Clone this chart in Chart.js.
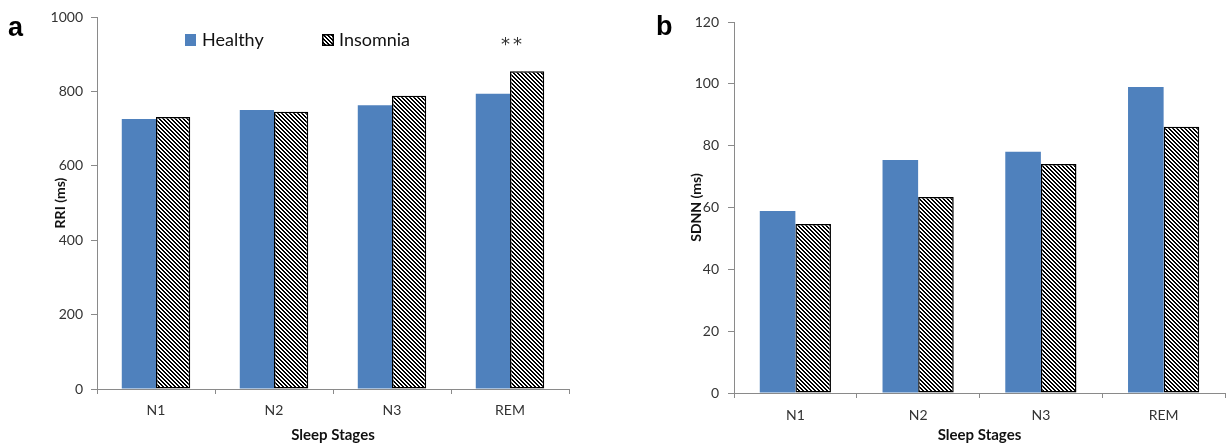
<!DOCTYPE html>
<html><head><meta charset="utf-8">
<script src="https://cdn.jsdelivr.net/npm/chart.js@4.4.1/dist/chart.umd.min.js"></script>
<style>
html,body{margin:0;padding:0;background:#fff;width:1227px;height:444px;overflow:hidden;position:relative;font-family:Lato,'Liberation Sans',sans-serif}
canvas{position:absolute;top:0}
#ca{left:0}
#cb{left:620px}
.lbl{position:absolute;font-family:'Liberation Sans',Arial,sans-serif;font-weight:bold;font-size:27px;color:#000;line-height:1}
.leg{position:absolute;top:29px;font-family:Lato,'Liberation Sans',sans-serif;font-size:18px;color:#111;line-height:20px;white-space:nowrap}
.leg canvas{position:static;display:inline-block;vertical-align:middle;margin-right:5px;margin-top:-3px}
.star{position:absolute;font-family:'DejaVu Sans',sans-serif;font-size:18px;color:#333;letter-spacing:3px}
</style></head><body>
<canvas id="ca" width="600" height="444"></canvas>
<canvas id="cb" width="607" height="444"></canvas>
<div class="lbl" style="left:8px;top:14px">a</div>
<div class="lbl" style="left:656px;top:13px">b</div>
<div id="legend"></div>
<div class="star" style="left:501px;top:33px">**</div>
<script>
const stages = ['N1', 'N2', 'N3', 'REM'];
const seriesNames = ['Healthy', 'Insomnia'];
const rriHealthy = [726, 750, 763, 794];
const rriInsomnia = [731, 745, 788, 854];
const sdnnHealthy = [58.9, 75.4, 78.0, 99.0];
const sdnnInsomnia = [54.7, 63.4, 74.1, 86.1];
const rriTicks = [0, 200, 400, 600, 800, 1000];
const sdnnTicks = [0, 20, 40, 60, 80, 100, 120];
const xTitle = 'Sleep Stages';
const rriTitle = 'RRI (ms)';
const sdnnTitle = 'SDNN (ms)';

const BLUE = '#4F81BD';
const AXIS = '#8a8a8a';
const FONT = "Lato, 'Liberation Sans', sans-serif";

function makeHatch(ctx) {
  const t = document.createElement('canvas');
  t.width = 4; t.height = 4;
  const c = t.getContext('2d');
  c.fillStyle = '#fff'; c.fillRect(0, 0, 4, 4);
  c.fillStyle = '#000';
  for (let i = 0; i < 4; i++) {
    c.fillRect(i, i, 1, 1);
    c.fillRect((i + 1) % 4, i, 1, 1);
  }
  return ctx.createPattern(t, 'repeat');
}

function buildChart(id, h, ins, ticks, yTitle, geom) {
  const cv = document.getElementById(id);
  const ctx = cv.getContext('2d');
  const hatch = makeHatch(ctx);
  const maxV = ticks[ticks.length - 1];
  return new Chart(ctx, {
    type: 'bar',
    data: {
      labels: stages,
      datasets: [
        { label: seriesNames[0], data: h, backgroundColor: BLUE, borderWidth: 0,
          categoryPercentage: 0.58, barPercentage: 1.0 },
        { label: seriesNames[1], data: ins, backgroundColor: hatch, borderColor: '#000', borderWidth: 1.5,
          borderSkipped: false, categoryPercentage: 0.58, barPercentage: 1.0 }
      ]
    },
    options: {
      responsive: false,
      animation: false,
      events: [],
      layout: { padding: { left: 0, right: geom.padRight, top: geom.padTop, bottom: 0 } },
      plugins: { legend: { display: false }, tooltip: { enabled: false } },
      scales: {
        x: {
          offset: true,
          grid: { display: true, offset: true, drawOnChartArea: false, drawTicks: true, tickLength: 5, color: AXIS, lineWidth: 1 },
          border: { display: true, color: AXIS, width: 1 },
          ticks: { color: '#333', font: { family: FONT, size: 14 }, padding: geom.xTickPad },
          title: { display: true, text: xTitle, color: '#111', font: { family: FONT, size: 15, weight: 'bold' }, padding: { top: 0, bottom: 0 } },
          afterFit: s => { s.height = geom.xHeight; }
        },
        y: {
          min: 0, max: maxV,
          afterBuildTicks: s => { s.ticks = ticks.map(v => ({ value: v })); },
          grid: { display: true, drawOnChartArea: false, drawTicks: true, tickLength: 6, color: AXIS, lineWidth: 1 },
          border: { display: true, color: AXIS, width: 1 },
          ticks: { color: '#333', font: { family: FONT, size: 14 }, padding: geom.yTickPad, callback: v => String(v) },
          title: { display: true, text: yTitle, color: '#111', font: { family: FONT, size: 14, weight: 'bold' }, padding: { top: geom.yTitlePad, bottom: 0 } },
          afterFit: s => { s.width = geom.yWidth; }
        }
      }
    }
  });
}

buildChart('ca', rriHealthy, rriInsomnia, rriTicks, rriTitle,
  { padRight: 31, padTop: 17, xHeight: 55, yWidth: 97, xTickPad: 8, yTickPad: 8, yTitlePad: 52 });
buildChart('cb', sdnnHealthy, sdnnInsomnia, sdnnTicks, sdnnTitle,
  { padRight: 2, padTop: 22, xHeight: 51, yWidth: 114, xTickPad: 9, yTickPad: 9, yTitlePad: 68 });

// legend from series names
const legend = document.getElementById('legend');
const legPos = [185, 322];
seriesNames.forEach((name, i) => {
  const d = document.createElement('div');
  d.className = 'leg';
  d.style.left = legPos[i] + 'px';
  const sw = document.createElement('canvas');
  sw.width = 12; sw.height = 12;
  const c = sw.getContext('2d');
  if (i === 0) { c.fillStyle = BLUE; c.fillRect(0, 0, 11, 12); }
  else { c.fillStyle = makeHatch(c); c.fillRect(0, 0, 12, 12); c.strokeStyle = '#000'; c.lineWidth = 1.5; c.strokeRect(0.75, 0.75, 10.5, 10.5); }
  d.appendChild(sw);
  d.appendChild(document.createTextNode(name));
  legend.appendChild(d);
});
</script>
</body></html>
